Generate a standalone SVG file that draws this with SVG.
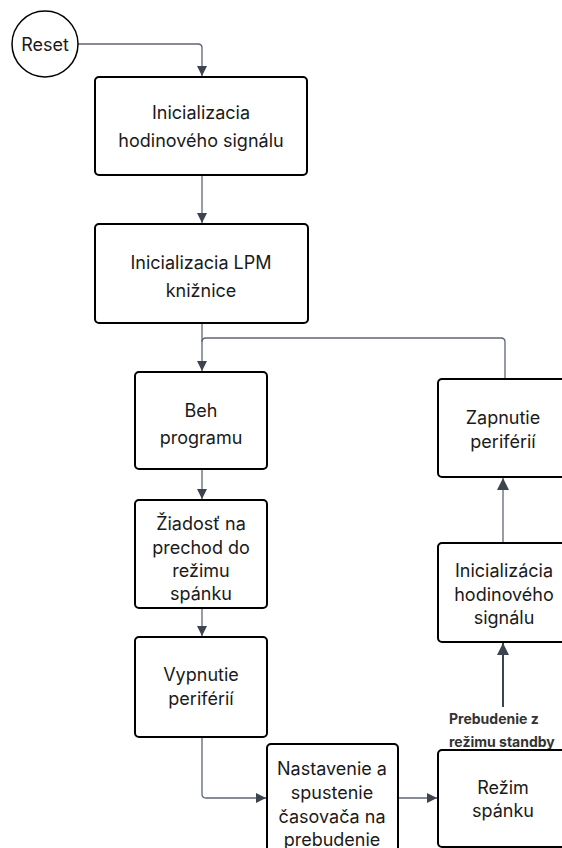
<svg xmlns="http://www.w3.org/2000/svg" width="562" height="848" viewBox="0 0 562 848">
  <style>
    .box { fill: #ffffff; stroke: #000000; stroke-width: 2; }
    .lbl { font-family: Inter, "Noto Sans", "DejaVu Sans", sans-serif; font-size: 18px; fill: #1a1a1a; text-anchor: middle; dominant-baseline: central; }
    .edge { fill: none; stroke: #5f6673; stroke-width: 1.3; }
    .edge-strong { fill: none; stroke: #3d4450; stroke-width: 2; }
    .note { font-family: Inter, "Noto Sans", "DejaVu Sans", sans-serif; font-size: 14px; font-weight: bold; fill: #333333; dominant-baseline: central; }
  </style>
  <defs>
    <marker id="arrow" viewBox="0 0 10 10" refX="10" refY="5" markerWidth="10" markerHeight="10" markerUnits="userSpaceOnUse" orient="auto">
      <path d="M0,0 L10,5 L0,10 Z" fill="#3d4450"/>
    </marker>
    <marker id="arrow-lg" viewBox="0 0 10 10" refX="10" refY="5" markerWidth="12" markerHeight="12" markerUnits="userSpaceOnUse" orient="auto">
      <path d="M0,0 L10,5 L0,10 Z" fill="#3d4450"/>
    </marker>
  </defs>

  <rect width="562" height="848" fill="#ffffff"/>

  <!-- connectors -->
  <g id="connectors">
    <path class="edge" d="M78,44 H198 Q202,44 202,48 V76" marker-end="url(#arrow)"/>
    <path class="edge" d="M202,175 V223" marker-end="url(#arrow)"/>
    <path class="edge" d="M202,323 V371" marker-end="url(#arrow)"/>
    <path class="edge" d="M505,378 V342 Q505,338 501,338 H206 Q202,338 202,342"/>
    <path class="edge" d="M202,469 V499" marker-end="url(#arrow)"/>
    <path class="edge" d="M202,608 V636" marker-end="url(#arrow)"/>
    <path class="edge" d="M202,737 V794 Q202,798 206,798 H266" marker-end="url(#arrow)"/>
    <path class="edge" d="M398,798 H437" marker-end="url(#arrow)"/>
    <path class="edge-strong" d="M503,750 V643" marker-end="url(#arrow-lg)"/>
    <path class="edge" d="M503,543 V478" marker-end="url(#arrow-lg)"/>
    <rect x="447" y="707" width="115" height="44" fill="#ffffff"/>
    <text class="note" x="449" y="718">Prebudenie z</text>
    <text class="note" x="449" y="741">režimu standby</text>
  </g>

  <g id="reset">
    <circle cx="45" cy="44" r="33" fill="#ffffff" stroke="#000000" stroke-width="1.5"/>
    <text class="lbl" x="45" y="44">Reset</text>
  </g>

  <g id="init-clock">
    <rect class="box" x="95" y="77" width="212" height="98" rx="4"/>
    <text class="lbl" x="201" y="112">Inicializacia</text>
    <text class="lbl" x="201" y="140">hodinového signálu</text>
  </g>

  <g id="init-lpm">
    <rect class="box" x="95" y="224" width="213" height="99" rx="4"/>
    <text class="lbl" x="201" y="262">Inicializacia LPM</text>
    <text class="lbl" x="201" y="290">knižnice</text>
  </g>

  <g id="run">
    <rect class="box" x="135" y="372" width="132" height="97" rx="4"/>
    <text class="lbl" x="201" y="410">Beh</text>
    <text class="lbl" x="201" y="437">programu</text>
  </g>

  <g id="request">
    <rect class="box" x="135" y="500" width="132" height="108" rx="4"/>
    <text class="lbl" x="201" y="523">Žiadosť na</text>
    <text class="lbl" x="201" y="547">prechod do</text>
    <text class="lbl" x="201" y="570">režimu</text>
    <text class="lbl" x="201" y="593">spánku</text>
  </g>

  <g id="periph-off">
    <rect class="box" x="135" y="637" width="132" height="100" rx="4"/>
    <text class="lbl" x="201" y="674">Vypnutie</text>
    <text class="lbl" x="201" y="698">periférií</text>
  </g>

  <g id="timer">
    <rect class="box" x="267" y="744" width="131" height="110" rx="4"/>
    <text class="lbl" x="332" y="768">Nastavenie a</text>
    <text class="lbl" x="332" y="792">spustenie</text>
    <text class="lbl" x="332" y="816">časovača na</text>
    <text class="lbl" x="332" y="839">prebudenie</text>
  </g>

  <g id="sleep">
    <rect class="box" x="438" y="750" width="131" height="97" rx="4"/>
    <text class="lbl" x="503" y="787">Režim</text>
    <text class="lbl" x="503" y="810">spánku</text>
  </g>

  <g id="reinit-clock">
    <rect class="box" x="438" y="543" width="131" height="99" rx="4"/>
    <text class="lbl" x="504" y="570">Inicializácia</text>
    <text class="lbl" x="504" y="594">hodinového</text>
    <text class="lbl" x="504" y="617">signálu</text>
  </g>

  <g id="periph-on">
    <rect class="box" x="438" y="379" width="131" height="98" rx="4"/>
    <text class="lbl" x="503" y="417">Zapnutie</text>
    <text class="lbl" x="503" y="441">periférií</text>
  </g>
</svg>
